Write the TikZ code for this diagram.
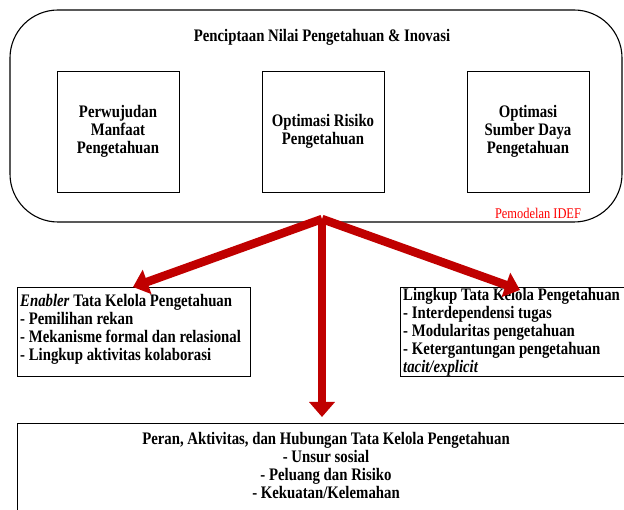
\documentclass[tikz,border=0pt]{standalone}
\usepackage{fontspec}
\setmainfont[FakeStretch=0.84]{Liberation Serif}
\newfontfamily\idefont{Liberation Serif}
\usetikzlibrary{arrows.meta}
\definecolor{arrred}{HTML}{C00000}
\begin{document}
\begin{tikzpicture}[x=1pt,y=-1pt,
  txt/.style={font=\bfseries\fontsize{17.6}{18}\selectfont},
  inbox/.style={draw, line width=0.9pt, minimum width=122pt, minimum height=121pt, align=center, txt},
  bigarrow/.style={draw=arrred, line width=8.5pt, -{Triangle[width=25pt,length=15pt]}}
]
\useasboundingbox (0,0) rectangle (624,510);
\draw[line width=1.1pt, rounded corners=48pt] (10,10) rectangle (622,222);
\node[txt] (title) at (322,37) {Penciptaan Nilai Pengetahuan \& Inovasi};
\node[inbox] (b1) at (118,131.5) {Perwujudan\\Manfaat\\Pengetahuan};
\node[inbox] (b2) at (323,131.5) {Optimasi Risiko\\Pengetahuan};
\node[inbox] (b3) at (528,131.5) {Optimasi\\Sumber Daya\\Pengetahuan};
\node[text=red, font=\fontsize{14.8}{16}\selectfont] (idef) at (538,213) {Pemodelan IDEF};

\node[draw, line width=0.9pt, minimum width=233pt, minimum height=89pt, anchor=north west] (lbox) at (17,287) {};
\node[txt, anchor=north west, align=left, inner sep=0pt] (ltext) at (20,294)
  {\textit{Enabler} Tata Kelola Pengetahuan\\- Pemilihan rekan\\- Mekanisme formal dan relasional\\- Lingkup aktivitas kolaborasi};

\node[draw, line width=0.9pt, minimum width=240pt, minimum height=89pt, anchor=north west] (rbox) at (400,287) {};
\node[txt, anchor=north west, align=left, inner sep=0pt] (rtext) at (403,288)
  {Lingkup Tata Kelola Pengetahuan\\- Interdependensi tugas\\- Modularitas pengetahuan\\- Ketergantungan pengetahuan\\\textit{tacit/explicit}};

\node[draw, line width=0.9pt, minimum width=623pt, minimum height=100pt, anchor=north west] (bbox) at (17,423) {};
\node[txt, align=center, inner sep=0pt, anchor=north] (btext) at (326,432)
  {Peran, Aktivitas, dan Hubungan Tata Kelola Pengetahuan\\- Unsur sosial\\- Peluang dan Risiko\\- Kekuatan/Kelemahan};

\coordinate (src) at (322,219);
\coordinate (ltip) at (133,287);
\coordinate (rtip) at (520,290);
\coordinate (dtip) at (322,417);
\draw[bigarrow] (src) -- (ltip);
\draw[bigarrow] (src) -- (rtip);
\draw[bigarrow] (src) -- (dtip);
\end{tikzpicture}
\end{document}
